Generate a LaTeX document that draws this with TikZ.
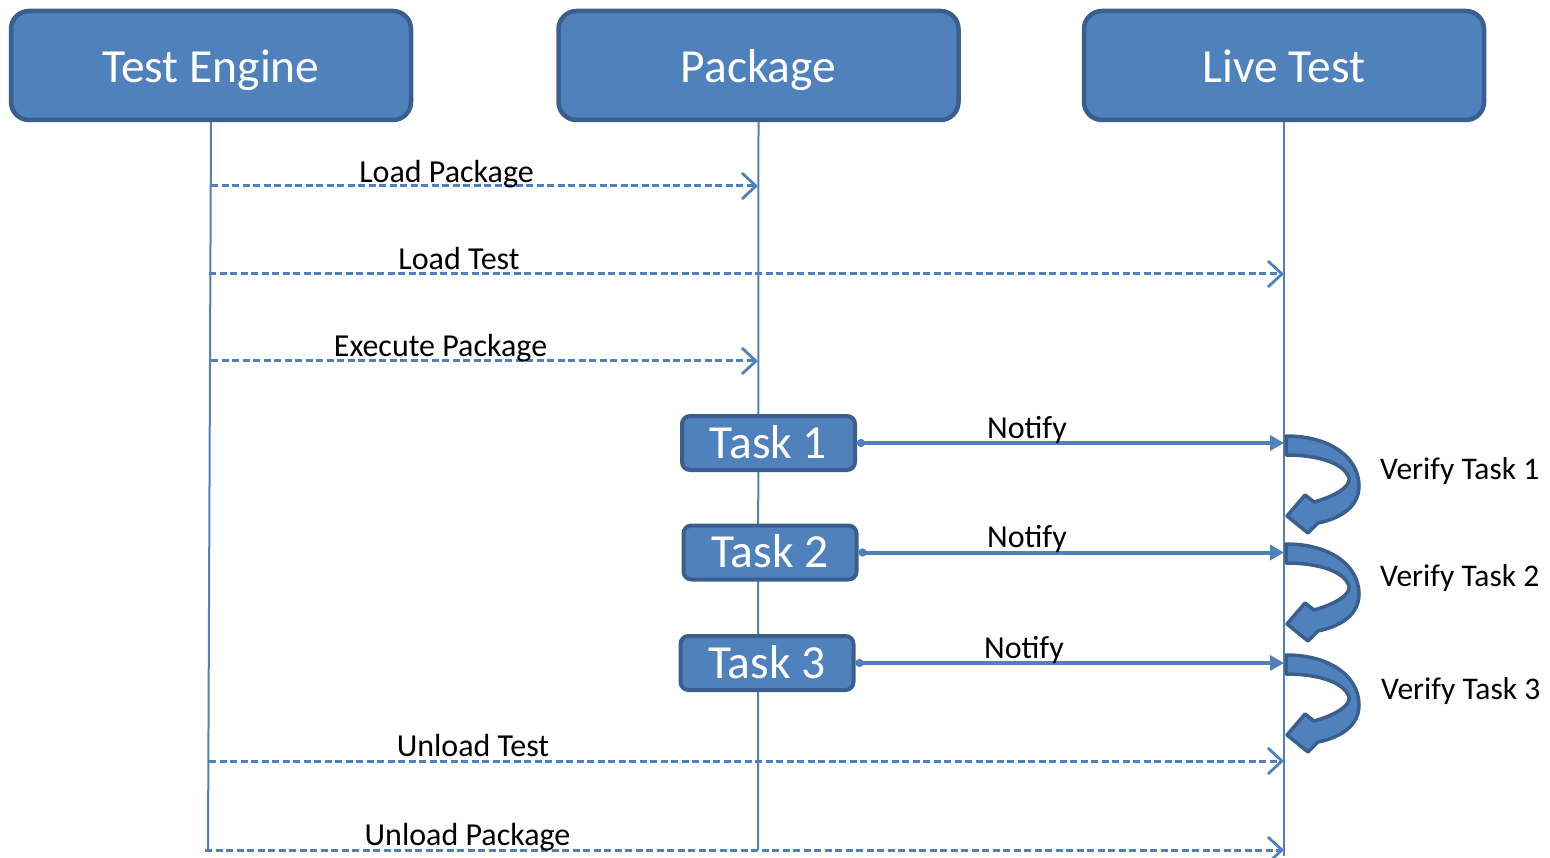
\documentclass[tikz,border=0pt]{standalone}
\usepackage{fontspec}
\setmainfont{Carlito}
\usetikzlibrary{arrows.meta}
\definecolor{boxfill}{HTML}{4F81BD}
\definecolor{boxline}{HTML}{3A5F8E}
\definecolor{lifeline}{HTML}{4F81BD}
\tikzset{
  header/.style={draw=boxline, line width=4.5pt, fill=boxfill, rounded corners=18pt,
    minimum width=400pt, minimum height=109pt, inner sep=0pt, text=white,
    text height=35pt, text depth=0pt,
    font=\fontsize{47.5}{50}\selectfont},
  taskbox/.style={draw=boxline, line width=4pt, fill=boxfill, rounded corners=8pt,
    minimum width=173pt, minimum height=54pt, inner sep=0pt, text=white,
    text height=30pt, text depth=0pt,
    font=\fontsize{47.5}{50}\selectfont},
  life/.style={draw=lifeline, line width=2pt},
  msg/.style={draw=lifeline, line width=3pt, dash pattern=on 7pt off 3.5pt,
    -{Straight Barb[length=14pt,width=26pt,line width=2.8pt]}},
  notify/.style={draw=lifeline, line width=4pt,
    {Circle[length=8pt]}-{Triangle[length=14pt,width=15pt]}},
  lbl/.style={anchor=base, inner sep=0pt, font=\fontsize{32}{36}\selectfont},
  vlbl/.style={anchor=west, inner sep=0pt, font=\fontsize{31.5}{36}\selectfont},
  selfloop/.pic={
    \path[fill=boxfill, draw=boxline, line width=3.5pt, line join=round]
      (0,0) .. controls (45,0) and (73,22) .. (73,50)
            .. controls (73,70) and (56,82) .. (32,87)
      -- (22,97) -- (1,80) -- (19,59) -- (28,66)
            .. controls (50,60) and (65,50) .. (63,42)
            .. controls (58,27) and (32,19) .. (0,19) -- cycle;
  }
}
\begin{document}
\begin{tikzpicture}[x=1pt, y=-1pt]
\useasboundingbox (0,0) rectangle (1550,858);

% lifeline heads
\node[header] (te) at (211,65.5) {Test Engine};
\node[header] (pk) at (758.5,65.5) {Package};
\node[header] (lt) at (1284,65.5) {Live Test};

% lifeline ends
\coordinate (teEnd) at (208,850);
\coordinate (pkEnd) at (758,850);
\coordinate (ltEnd) at (1284,856);

\draw[life] (te.south) -- (teEnd);
\draw[life] (pk.south) -- (pkEnd);
\draw[life] (lt.south) -- (ltEnd);

% messages from the engine
\coordinate (m1s) at (211,186);  \coordinate (m1e) at (758,186);
\coordinate (m2s) at (209,274);  \coordinate (m2e) at (1284,274);
\coordinate (m3s) at (211,361);  \coordinate (m3e) at (758,361);
\coordinate (m4s) at (209,761);  \coordinate (m4e) at (1284,761);
\coordinate (m5s) at (205,850);  \coordinate (m5e) at (1284,850);

\draw[msg] (m1s) -- (m1e);
\draw[msg] (m2s) -- (m2e);
\draw[msg] (m3s) -- (m3e);
\draw[msg] (m4s) -- (m4e);
\draw[msg] (m5s) -- (m5e);

\node[lbl] (l1) at (446.5,183) {Load Package};
\node[lbl] (l2) at (459,270) {Load Test};
\node[lbl] (l3) at (440.5,357) {Execute Package};
\node[lbl] (l4) at (473,756) {Unload Test};
\node[lbl] (l5) at (467.5,845) {Unload Package};

% tasks
\node[taskbox] (t1) at (768.5,443) {Task 1};
\node[taskbox] (t2) at (770,552.5) {Task 2};
\node[taskbox] (t3) at (767,663) {Task 3};

\draw[notify] (t1.east) -- (t1.east -| lt.south);
\draw[notify] (t2.east) -- (t2.east -| lt.south);
\draw[notify] (t3.east) -- (t3.east -| lt.south);

\node[lbl] (n1) at (1027,438) {Notify};
\node[lbl] (n2) at (1027,547) {Notify};
\node[lbl] (n3) at (1024,658) {Notify};

% verification loops on the live test
\pic at (1286,436) {selfloop};
\pic at (1286,544) {selfloop};
\pic at (1286,655) {selfloop};

\node[vlbl] (v1) at (1380,471) {Verify Task 1};
\node[vlbl] (v2) at (1380,578) {Verify Task 2};
\node[vlbl] (v3) at (1381,691) {Verify Task 3};
\end{tikzpicture}
\end{document}
